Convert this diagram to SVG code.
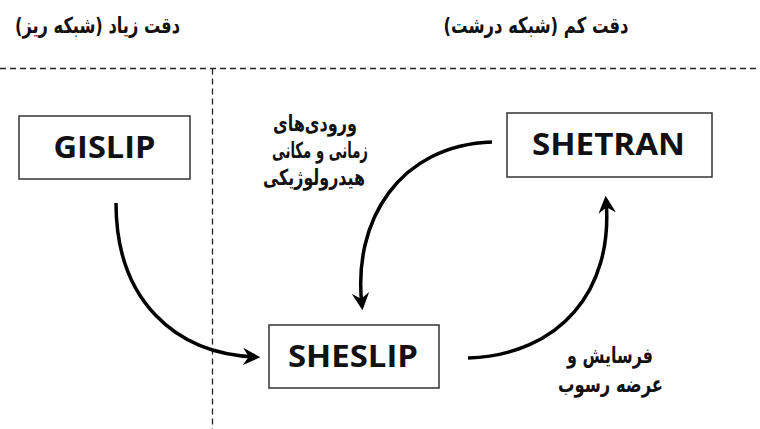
<svg xmlns="http://www.w3.org/2000/svg" width="760" height="429" viewBox="0 0 760 429">
<style>
.box{fill:#fff;stroke:#333;stroke-width:1.5}
.lbl{font-family:"Open Sans","Liberation Sans",sans-serif;font-weight:bold;font-size:31px;fill:#111;text-anchor:middle}
.fa{font-family:"DejaVu Sans","Noto Sans",sans-serif;font-weight:bold;font-size:22px;fill:#111;text-anchor:middle;direction:rtl}
.dash{stroke:#222;stroke-width:1.3;stroke-dasharray:6,4;fill:none}
.arr{stroke:#000;stroke-width:3.5;fill:none;marker-end:url(#ah)}
</style>
<defs>
<marker id="ah" viewBox="0 0 12 12" refX="9" refY="6" markerWidth="5" markerHeight="5" orient="auto" markerUnits="strokeWidth">
<path d="M0,0 L12,6 L0,12 L4,6 z" fill="#000"/>
</marker>
</defs>
<rect width="760" height="429" fill="#fff"/>
<g id="headers">
<text class="fa" x="97.5" y="33" textLength="165" lengthAdjust="spacingAndGlyphs">دقت زیاد (شبکه ریز)</text>
<text class="fa" x="536" y="33" textLength="185" lengthAdjust="spacingAndGlyphs">دقت کم (شبکه درشت)</text>
</g>
<g id="dividers">
<line class="dash" x1="0" y1="68.5" x2="760" y2="68.5"/>
<line class="dash" x1="212.5" y1="68.5" x2="212.5" y2="429"/>
</g>
<g id="connectors">
<path class="arr" d="M116,203 C116,300 175,354 256,357"/>
<path class="arr" d="M492,142 C400,145 352,220 362,306"/>
<path class="arr" d="M468,358 C560,355 614,290 606,200"/>
</g>
<g id="gislip">
<rect class="box" x="19" y="116" width="171" height="63"/>
<text class="lbl" x="104.5" y="158" textLength="102" lengthAdjust="spacingAndGlyphs">GISLIP</text>
</g>
<g id="sheslip">
<rect class="box" x="269" y="325" width="170" height="63"/>
<text class="lbl" x="353" y="367" textLength="130" lengthAdjust="spacingAndGlyphs">SHESLIP</text>
</g>
<g id="shetran">
<rect class="box" x="507" y="113" width="205" height="64"/>
<text class="lbl" x="608.5" y="155" textLength="153" lengthAdjust="spacingAndGlyphs">SHETRAN</text>
</g>
<g id="label-inputs">
<text class="fa" x="315" y="131" textLength="84" lengthAdjust="spacingAndGlyphs">ورودی‌های</text>
<text class="fa" x="320" y="158" textLength="96" lengthAdjust="spacingAndGlyphs">زمانی و مکانی</text>
<text class="fa" x="314" y="185" textLength="102" lengthAdjust="spacingAndGlyphs">هیدرولوژیکی</text>
</g>
<g id="label-sediment">
<text class="fa" x="610" y="363" textLength="86" lengthAdjust="spacingAndGlyphs">فرسایش و</text>
<text class="fa" x="610.5" y="392" textLength="105" lengthAdjust="spacingAndGlyphs">عرضه رسوب</text>
</g>
</svg>
